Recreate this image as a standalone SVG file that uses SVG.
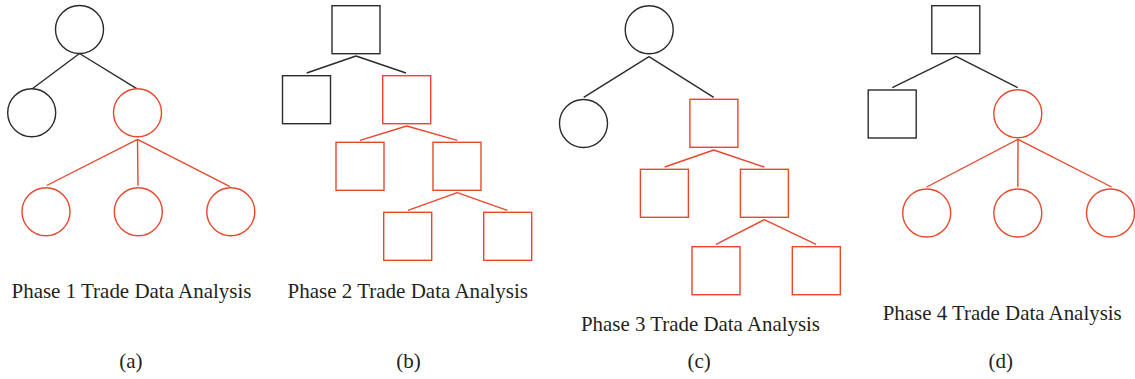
<svg xmlns="http://www.w3.org/2000/svg" width="1135" height="379" viewBox="0 0 1135 379">
<style>
.k{fill:none;stroke:#2b2b2b;stroke-width:1.4}
.r{fill:none;stroke:#e8482e;stroke-width:1.4}
.t{font-family:"Liberation Serif","DejaVu Serif",serif;font-size:21.5px;fill:#231f20}
.c{font-family:"Liberation Serif","DejaVu Serif",serif;font-size:21px;fill:#231f20;text-anchor:middle}
</style>
<rect width="1135" height="379" fill="#ffffff"/>
<g id="connectors">
<path class="k" d="M79.5 53.5L32.3 88.7M79.5 53.5L136.7 88.7"/>
<path class="r" d="M137.5 139.3L46.7 185.5M137.5 139.3L138 185.7M137.5 139.3L230 186.7"/>
<path class="k" d="M356 56L306.7 73M356 56L406 73"/>
<path class="r" d="M406.7 126L360 140.3M406.7 126L457.3 140.3"/>
<path class="r" d="M457.3 192.7L408 210.3M457.3 192.7L507.3 210.3"/>
<path class="k" d="M649 56.7L583.7 97.3M649 56.7L713.7 97.3"/>
<path class="r" d="M713.7 150L664.7 167M713.7 150L764.3 167"/>
<path class="r" d="M764.3 219.7L716 244.3M764.3 219.7L816 244.3"/>
<path class="k" d="M956 56.3L892.3 87.7M956 56.3L1017.7 87.7"/>
<path class="r" d="M1018 139.3L926.7 187M1018 139.3L1017.8 187M1018 139.3L1111.5 187"/>
</g>
<g id="a-root"><circle class="k" cx="79.5" cy="29.5" r="24"/></g>
<g id="a-left"><circle class="k" cx="31.7" cy="112.7" r="24"/></g>
<g id="a-right"><circle class="r" cx="137.5" cy="112.7" r="24"/></g>
<g id="a-c1"><circle class="r" cx="46" cy="211.7" r="24"/></g>
<g id="a-c2"><circle class="r" cx="138.3" cy="211.7" r="24"/></g>
<g id="a-c3"><circle class="r" cx="230.8" cy="211.7" r="24"/></g>
<g id="b-root"><rect class="k" x="332" y="5.7" width="48" height="48"/></g>
<g id="b-left"><rect class="k" x="282.5" y="75.7" width="48" height="48"/></g>
<g id="b-right"><rect class="r" x="382.7" y="75.7" width="48" height="48"/></g>
<g id="b-l3a"><rect class="r" x="336" y="142.3" width="48" height="48"/></g>
<g id="b-l3b"><rect class="r" x="433" y="142.3" width="48" height="48"/></g>
<g id="b-l4a"><rect class="r" x="383.7" y="212.3" width="48" height="48"/></g>
<g id="b-l4b"><rect class="r" x="483.7" y="212.3" width="48" height="48"/></g>
<g id="c-root"><circle class="k" cx="649.2" cy="29.7" r="24"/></g>
<g id="c-left"><circle class="k" cx="583.5" cy="123.5" r="24"/></g>
<g id="c-right"><rect class="r" x="689.9" y="99.3" width="48" height="48"/></g>
<g id="c-l3a"><rect class="r" x="640.4" y="169.3" width="48" height="48"/></g>
<g id="c-l3b"><rect class="r" x="740.4" y="169.3" width="48" height="48"/></g>
<g id="c-l4a"><rect class="r" x="692" y="246.7" width="48" height="48"/></g>
<g id="c-l4b"><rect class="r" x="792.3" y="246.7" width="48" height="48"/></g>
<g id="d-root"><rect class="k" x="931.8" y="5.7" width="48" height="48"/></g>
<g id="d-left"><rect class="k" x="868.2" y="90" width="48" height="48"/></g>
<g id="d-right"><circle class="r" cx="1017.8" cy="113.7" r="24"/></g>
<g id="d-c1"><circle class="r" cx="926.7" cy="213" r="24"/></g>
<g id="d-c2"><circle class="r" cx="1017.8" cy="213" r="24"/></g>
<g id="d-c3"><circle class="r" cx="1110.5" cy="213" r="24"/></g>
<g id="labels">
<text class="t" x="11.5" y="297.7" textLength="240" lengthAdjust="spacingAndGlyphs">Phase 1 Trade Data Analysis</text>
<text class="t" x="287.5" y="297.7" textLength="240.5" lengthAdjust="spacingAndGlyphs">Phase 2 Trade Data Analysis</text>
<text class="t" x="581" y="331" textLength="239" lengthAdjust="spacingAndGlyphs">Phase 3 Trade Data Analysis</text>
<text class="t" x="882.7" y="320" textLength="239" lengthAdjust="spacingAndGlyphs">Phase 4 Trade Data Analysis</text>
<text class="c" x="130.8" y="368">(a)</text>
<text class="c" x="408.6" y="368">(b)</text>
<text class="c" x="699.2" y="368">(c)</text>
<text class="c" x="1000.8" y="368">(d)</text>
</g>
</svg>
